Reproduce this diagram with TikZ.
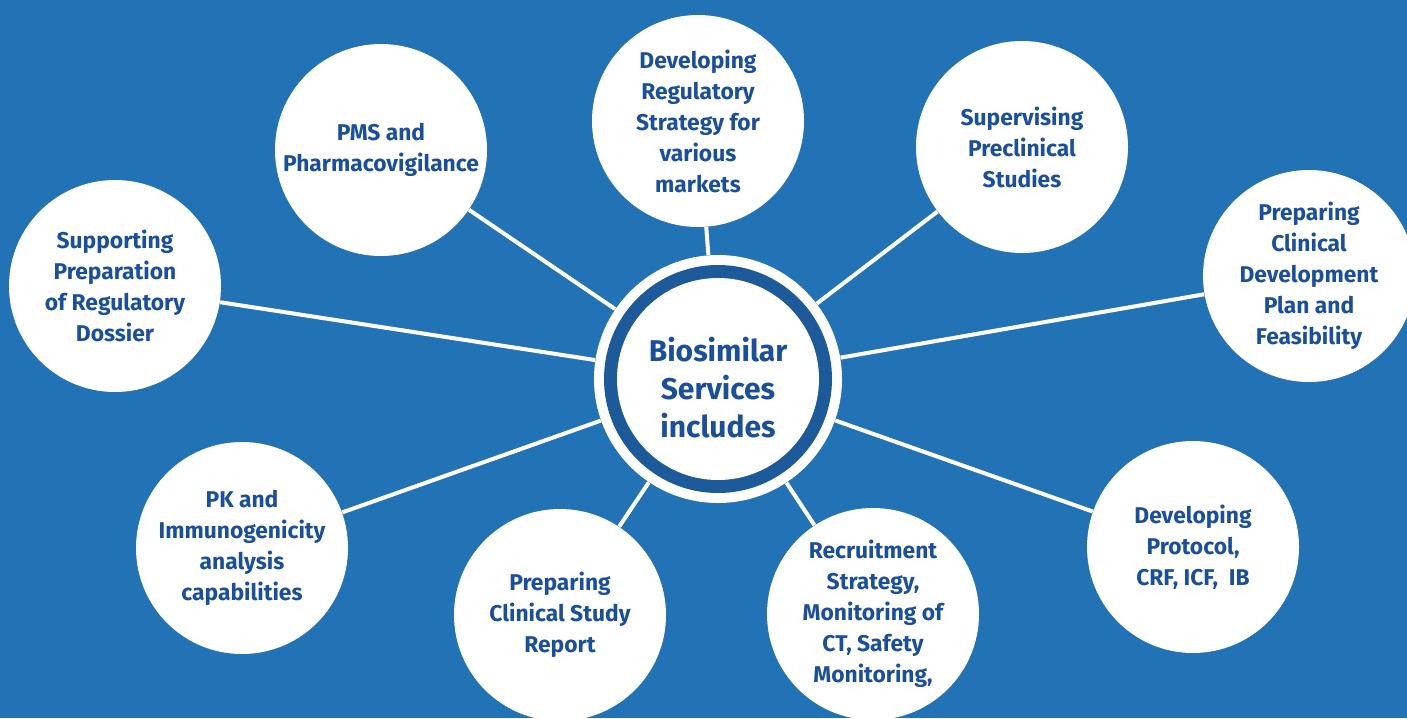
\documentclass[tikz,border=0pt]{standalone}
\usepackage{fontspec}
\setsansfont{Fira Sans}
\usepackage{tikz}
\usetikzlibrary{positioning}
\definecolor{bgblue}{HTML}{2272B6}
\definecolor{txtblue}{HTML}{1A4F9E}
\definecolor{ringblue}{HTML}{1D5A99}

\begin{document}
\begin{tikzpicture}[x=0.5pt,y=-0.5pt,
    service/.style={circle, fill=white, minimum size=106pt, inner sep=0pt, align=center, text=txtblue, font=\sffamily\bfseries\fontsize{11.4}{15.5}\selectfont},
    link/.style={draw=white, line width=2pt}]

      \useasboundingbox (0,0) rectangle (1407,718);
      \clip (0,0) rectangle (1407,718);
      \fill[bgblue] (0,0) rectangle (1407,718);

      % hub with ring
      \node[circle, fill=white, minimum size=124pt, inner sep=0pt] (hub) at (718,379) {};
      \fill[ringblue] (hub.center) circle (57pt);
      \node[circle, fill=white, minimum size=101pt, inner sep=0pt] (core) at (hub) {};
      \node[align=center, text=txtblue, font=\sffamily\bfseries\fontsize{15}{19}\selectfont] (corelabel) at ([yshift=-4.5pt]core.center) {Biosimilar\\Services\\includes};

      % services around the hub
      \node[service] (pms) at (381,150) {PMS and\\Pharmacovigilance};
      \node[service] (strategy) at (698,121) {Developing\\Regulatory\\Strategy for\\various\\markets};
      \node[service] (preclin) at (1022,147) {Supervising\\Preclinical\\Studies};
      \node[service] (plan) at (1309,276) {Preparing\\Clinical\\Development\\Plan and\\Feasibility};
      \node[service] (protocol) at (1193,547) {Developing\\Protocol,\\CRF, ICF,\ \ IB};
      \node[service] (recruit) at (873,614) {Recruitment\\Strategy,\\Monitoring of\\CT, Safety\\Monitoring,};
      \node[service] (report) at (560,615) {Preparing\\Clinical Study\\Report};
      \node[service] (pk) at (242,548) {PK and\\Immunogenicity\\analysis\\capabilities};
      \node[service] (dossier) at (115,286) {Supporting\\Preparation\\of Regulatory\\Dossier};

      \foreach \s in {pms, strategy, preclin, plan, protocol, recruit, report, pk, dossier}
        \draw[link] (hub) -- (\s);

\end{tikzpicture}
\end{document}
